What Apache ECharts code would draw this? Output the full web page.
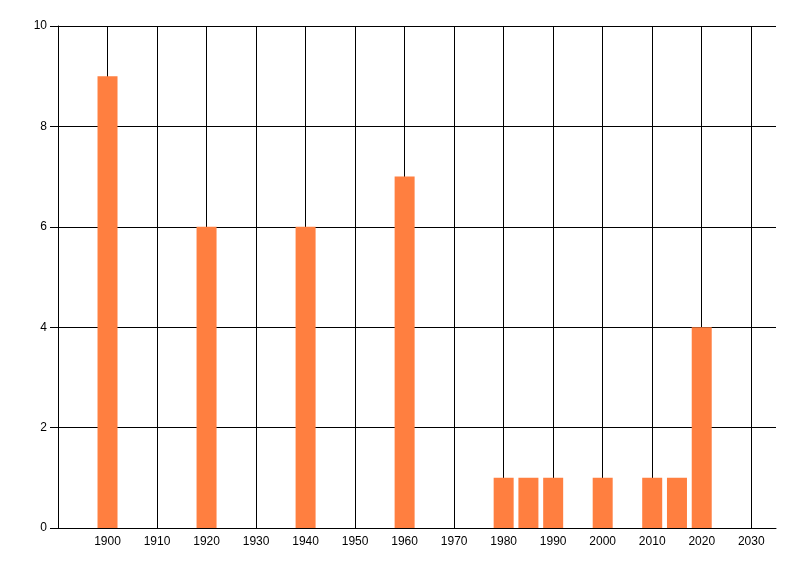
<!DOCTYPE html>
<html>
<head>
<meta charset="utf-8">
<script src="https://cdn.jsdelivr.net/npm/echarts@6/dist/echarts.min.js"></script>
<style>
  html, body { margin: 0; padding: 0; background: #fff; }
  #chart { width: 800px; height: 576px; }
</style>
</head>
<body>
<div id="chart"></div>
<script>
// years and counts
var years = [1900, 1920, 1940, 1960, 1980, 1985, 1990, 2000, 2010, 2015, 2020];
var counts = [9, 6, 6, 7, 1, 1, 1, 1, 1, 1, 4];

var chart = echarts.init(document.getElementById("chart"));

chart.setOption({
  animation: false,
  grid: {
    left: 58,
    right: 24,
    top: 26,
    bottom: 48
  },
  xAxis: {
    type: "value",
    min: 1890,
    max: 2035,
    interval: 10,
    axisLine: { lineStyle: { color: "#000", width: 1 } },
    axisTick: { show: false },
    axisLabel: {
      margin: 8,
      color: "#000",
      fontFamily: "Liberation Sans",
      fontSize: 12,
      showMinLabel: false,
      showMaxLabel: false,
      formatter: function(v) {
        return v % 10 === 0 ? String(v) : "";
      }
    },
    splitLine: {
      show: true,
      showMinLine: false,
      showMaxLine: false,
      lineStyle: { color: "#000", width: 1 }
    }
  },
  yAxis: {
    type: "value",
    min: 0,
    max: 10,
    interval: 2,
    axisLine: { show: true, lineStyle: { color: "#000", width: 1 } },
    axisTick: { show: true, length: 8, lineStyle: { color: "#000" } },
    axisLabel: {
      margin: 11,
      color: "#000",
      fontFamily: "Liberation Sans",
      fontSize: 12
    },
    splitLine: { show: true, lineStyle: { color: "#000", width: 1 } }
  },
  series: [
    {
      type: "bar",
      barWidth: 20,
      itemStyle: { color: "#FF7F40" },
      data: years.map(function(y, i) {
        return [y, counts[i]];
      })
    }
  ]
});
</script>
</body>
</html>
